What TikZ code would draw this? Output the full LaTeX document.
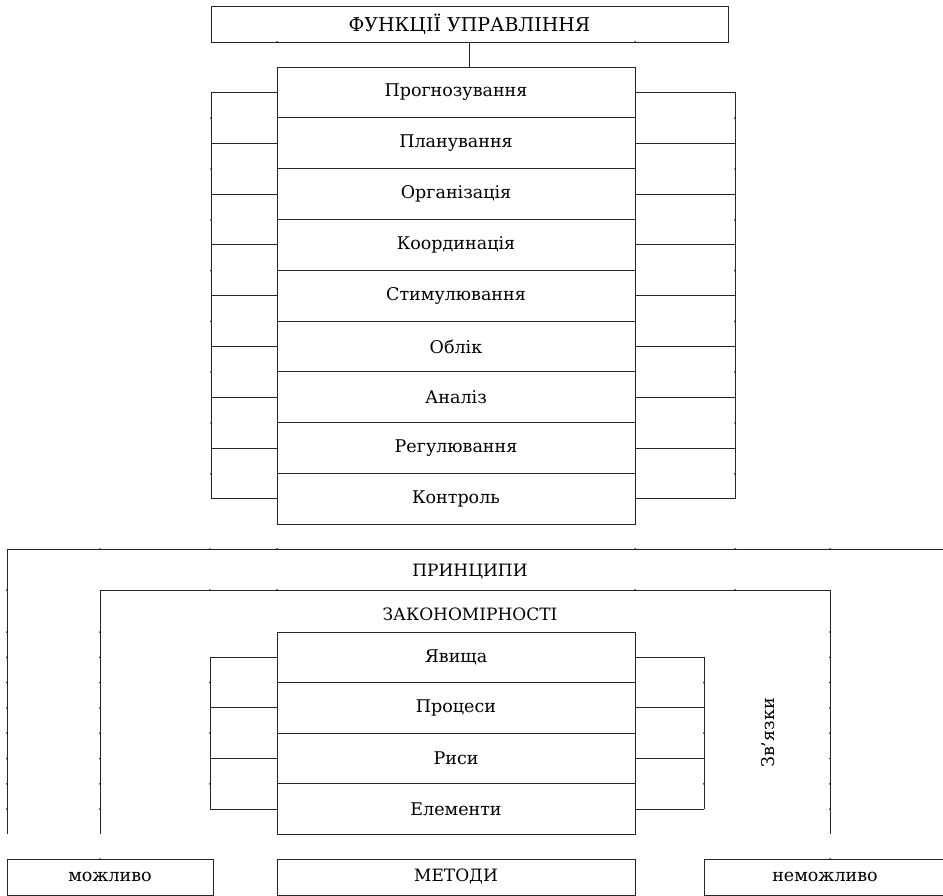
\documentclass[tikz,border=0pt]{standalone}
\usepackage{fontspec}
\setmainfont{DejaVu Serif}[Ligatures=ResetAll]
\newcommand\lblfont{\fontsize{17.5}{20}\selectfont}
\newcommand\headfont{\fontsize{17}{20}\selectfont}
\newcommand\titlefont{\fontsize{19}{22}\selectfont}
\begin{document}
\begin{tikzpicture}[x=1pt,y=-1pt,
  ln/.style={draw=black!85, line width=0.9pt},
  cell/.style={ln, rectangle, minimum width=358pt, minimum height=50.8pt, inner sep=0pt, font=\lblfont},
  boxnode/.style={ln, rectangle, minimum height=36pt, inner sep=0pt},
  tickmark/.style={fill=black!85},
]
\useasboundingbox (0,0) rectangle (943,896);

% ---- upper block: functions of management ----
\node[boxnode, minimum width=517pt, font=\titlefont] (title) at (469.5,24) {ФУНКЦІЇ УПРАВЛІННЯ};

\foreach \t [count=\i] in {Прогнозування,Планування,Організація,Координація,Стимулювання,Облік,Аналіз,Регулювання,Контроль}
  \node[cell] (f\i) at (456,{67+50.8*(\i-0.5)}) {\t};

\draw[ln] (title.south) -- (title.south |- f1.north);

% side brackets of the function list
\foreach \i in {1,...,9} {
  \coordinate (fl\i) at (211,{67+50.8*(\i-0.5)});
  \coordinate (fr\i) at (735,{67+50.8*(\i-0.5)});
  \draw[ln] (f\i.west) -- (fl\i);
  \draw[ln] (f\i.east) -- (fr\i);
}
\draw[ln] (fl1) -- (fl9);
\draw[ln] (fr1) -- (fr9);

% ---- lower block: principles, regularities ----
\coordinate (pa) at (7,834);
\coordinate (pb) at (7,549);
\coordinate (pc) at (945,549);
\draw[ln] (pa) -- (pb) -- (pc);
\node[font=\headfont] (prin) at (470,572) {ПРИНЦИПИ};

\coordinate (za) at (100,834);
\coordinate (zb) at (100,590);
\coordinate (zc) at (830,590);
\coordinate (zd) at (830,834);
\draw[ln] (za) -- (zb) -- (zc) -- (zd);
\node[font=\headfont] (zak) at (470,614) {ЗАКОНОМІРНОСТІ};

\foreach \t [count=\i] in {Явища,Процеси,Риси,Елементи}
  \node[cell, minimum height=50.6pt] (z\i) at (456,{632+50.6*(\i-0.5)}) {\t};

\foreach \i in {1,...,4} {
  \coordinate (zl\i) at (210,{632+50.6*(\i-0.5)});
  \coordinate (zr\i) at (704,{632+50.6*(\i-0.5)});
  \draw[ln] (z\i.west) -- (zl\i);
  \draw[ln] (z\i.east) -- (zr\i);
}
\draw[ln] (zl1) -- (zl4);
\draw[ln] (zr1) -- (zr4);

\node[font=\lblfont, rotate=90] (zv) at (768,733) {Зв'язки};

% ---- methods row ----
\node[boxnode, minimum width=206pt, font=\lblfont] (mozh) at (110,877) {можливо};
\node[boxnode, minimum width=358pt, font=\headfont] (met) at (456,877) {МЕТОДИ};
\node[boxnode, minimum width=242pt, font=\lblfont] (nemozh) at (825,877) {неможливо};

% ---- small grid marks on the lines ----
\foreach \y in {118.2,169,219.8,270.6,321.4,372.2,423,473.8} {
  \fill[tickmark] (211,\y) circle (1pt);
  \fill[tickmark] (735,\y) circle (1pt);
}
\foreach \x in {277,635} \fill[tickmark] (\x,42) circle (1pt);
\foreach \x in {100,210,277,635,735,830} \fill[tickmark] (\x,549) circle (1pt);
\foreach \x in {210,277,635,735} \fill[tickmark] (\x,590) circle (1pt);
\foreach \y in {590,632,657.3,682.6,707.9,733.2,758.5,783.8,809.1} \fill[tickmark] (7,\y) circle (1pt);
\foreach \y in {632,657.3,682.6,707.9,733.2,758.5,783.8,809.1} {
  \fill[tickmark] (100,\y) circle (1pt);
  \fill[tickmark] (830,\y) circle (1pt);
}
\foreach \y in {682.6,733.2,783.8} {
  \fill[tickmark] (210,\y) circle (1pt);
  \fill[tickmark] (704,\y) circle (1pt);
}
\fill[tickmark] (100,859) circle (1pt);
\fill[tickmark] (830,859) circle (1pt);
\end{tikzpicture}
\end{document}
